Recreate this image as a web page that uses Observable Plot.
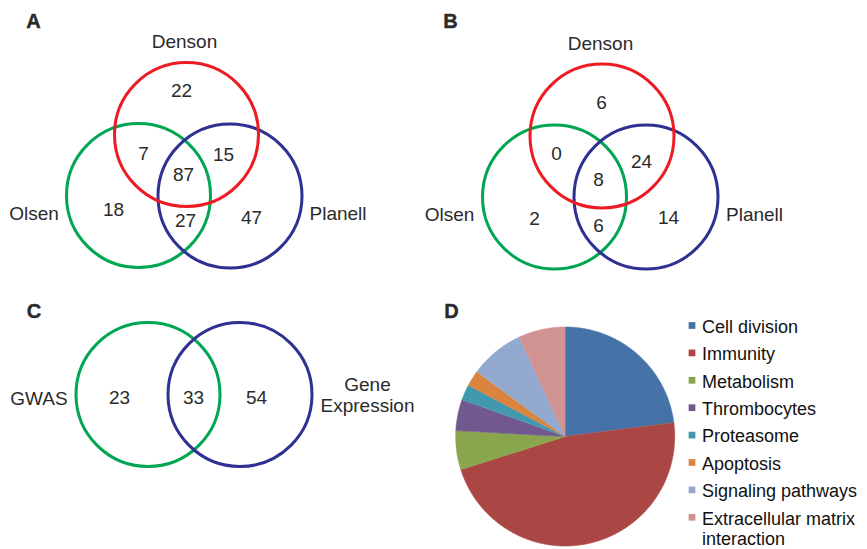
<!DOCTYPE html>
<html>
<head>
<meta charset="utf-8">
<script src="https://cdn.jsdelivr.net/npm/d3@7"></script>
<script src="https://cdn.jsdelivr.net/npm/@observablehq/plot@0.6"></script>
<style>
  html, body { margin: 0; padding: 0; background: #ffffff; }
  #chart svg { display: block; }
</style>
</head>
<body>
<div id="chart"></div>
<script>
// ---------- DATA ----------
const vennASets = ["Denson", "Olsen", "Planell"];
// regions: Denson only, Denson∩Olsen, Denson∩Planell, all three, Olsen only, Olsen∩Planell, Planell only
const vennACounts = [22, 7, 15, 87, 18, 27, 47];
const vennBSets = ["Denson", "Olsen", "Planell"];
const vennBCounts = [6, 0, 24, 8, 2, 6, 14];
const vennCSets = ["GWAS", "Gene\nExpression"];
// regions: GWAS only, both, Gene Expression only
const vennCCounts = [23, 33, 54];
const pieCategories = ["Cell division", "Immunity", "Metabolism", "Thrombocytes", "Proteasome", "Apoptosis", "Signaling pathways", "Extracellular matrix\ninteraction"];
const pieValues = [20, 41, 5, 4, 2, 2, 7, 6];
const panelLetters = ["A", "B", "C", "D"];

// ---------- STYLE / LAYOUT ----------
const FONT = "'Liberation Sans', Arial, Helvetica, sans-serif";
const TEXT = "#2a2a2a";
const setColor = {"Denson": "#ED1C24", "Olsen": "#00A651", "Planell": "#2E3192", "GWAS": "#00A651", "Gene\nExpression": "#2E3192"};
const pieColors = ["#4572A7", "#AA4643", "#89A54E", "#71588F", "#4198AF", "#DB843D", "#93A9CF", "#D19392"];
const R = 72;

const layoutA = {
  circles: [[138, 195], [229.5, 195.5], [186, 134]],   // Olsen, Planell, Denson (draw order)
  circleSets: [1, 2, 0],
  labels: [[184, 40], [33.5, 212], [337.5, 212]],
  regions: [[181, 90], [143, 153], [223, 154], [183, 174], [113, 209], [185, 220], [251, 217]]
};
const layoutB = {
  circles: [[554, 196.5], [645.5, 196.5], [601.5, 135.5]],
  circleSets: [1, 2, 0],
  labels: [[600, 42], [449, 213], [754, 213]],
  regions: [[601, 102], [556, 153], [641, 161], [598, 179], [534, 218], [598, 225], [668, 217]]
};
const layoutC = {
  circles: [[147.5, 394], [239.5, 394]],
  circleSets: [0, 1],
  labels: [[38.5, 397], [367, 394]],
  regions: [[119, 397], [193, 397], [256, 397]]
};
const letterPos = [[33, 21], [450, 21], [33.5, 311.5], [451, 311]];
const pieCenter = [564.7, 436], pieR = 109.5;
const legendX = 691.5, legendTextX = 701.5, legendY0 = 325, legendStep = 27.4;

// ---------- BUILD TABLES ----------
function venn(sets, counts, layout) {
  const circles = layout.circles.map(([cx, cy], i) => {
    const s = sets[layout.circleSets[i]];
    return {cx, cy, color: setColor[s]};
  });
  const labels = sets.map((s, i) => ({x: layout.labels[i][0], y: layout.labels[i][1], text: s}));
  const regions = counts.map((v, i) => ({x: layout.regions[i][0], y: layout.regions[i][1], text: String(v)}));
  return {circles, labels, regions};
}
const A = venn(vennASets, vennACounts, layoutA);
const B = venn(vennBSets, vennBCounts, layoutB);
const C = venn(vennCSets, vennCCounts, layoutC);
const allCircles = [...A.circles, ...B.circles, ...C.circles];
const allLabels = [...A.labels, ...B.labels, ...C.labels];
const allRegions = [...A.regions, ...B.regions, ...C.regions];
const letters = panelLetters.map((t, i) => ({x: letterPos[i][0], y: letterPos[i][1], text: t}));

const arcs = d3.pie().sort(null).startAngle(0).endAngle(2 * Math.PI)(pieValues);
const piePts = [];
arcs.forEach((a, i) => {
  const col = pieColors[i];
  piePts.push({slice: i, px: pieCenter[0], py: pieCenter[1], color: col});
  const n = Math.max(2, Math.ceil((a.endAngle - a.startAngle) / (Math.PI / 360)));
  for (let k = 0; k <= n; k++) {
    const t = a.startAngle + (a.endAngle - a.startAngle) * k / n;
    piePts.push({slice: i, px: pieCenter[0] + pieR * Math.sin(t), py: pieCenter[1] - pieR * Math.cos(t), color: col});
  }
});
const legend = pieCategories.map((c, i) => ({y: legendY0 + i * legendStep, text: c, color: pieColors[i]}));

// ---------- PLOT ----------
const chart = Plot.plot({
  width: 867,
  height: 549,
  margin: 0,
  x: {type: "linear", domain: [0, 867], range: [0, 867], axis: null},
  y: {type: "linear", domain: [0, 549], range: [0, 549], axis: null},
  color: {type: "identity"},
  style: {fontFamily: FONT, background: "#ffffff", overflow: "visible"},
  marks: [
    Plot.line(piePts, {x: "px", y: "py", z: "slice", fill: "color", stroke: "color", strokeWidth: 0.6, curve: "linear"}),
    Plot.dot(allCircles, {x: "cx", y: "cy", r: R, stroke: "color", fill: "none", strokeWidth: 3}),
    Plot.text(allLabels, {x: "x", y: "y", text: "text", fontSize: 19, fill: TEXT, lineHeight: 1.15}),
    Plot.text(allRegions, {x: "x", y: "y", text: "text", fontSize: 19, fill: TEXT}),
    Plot.text(letters, {x: "x", y: "y", text: "text", fontSize: 20, fontWeight: "bold", fill: "#2a2a2a", stroke: "#2a2a2a", strokeWidth: 0.4}),
    Plot.dot(legend, {x: legendX, y: "y", symbol: "square", r: 3.8, fill: "color", stroke: "none"}),
    Plot.text(legend, {x: legendTextX, y: "y", text: "text", textAnchor: "start", lineAnchor: "top", dy: -7, lineHeight: 1.12, fontSize: 18, fill: "#111111"})
  ]
});
document.getElementById("chart").appendChild(chart);
</script>
</body>
</html>
